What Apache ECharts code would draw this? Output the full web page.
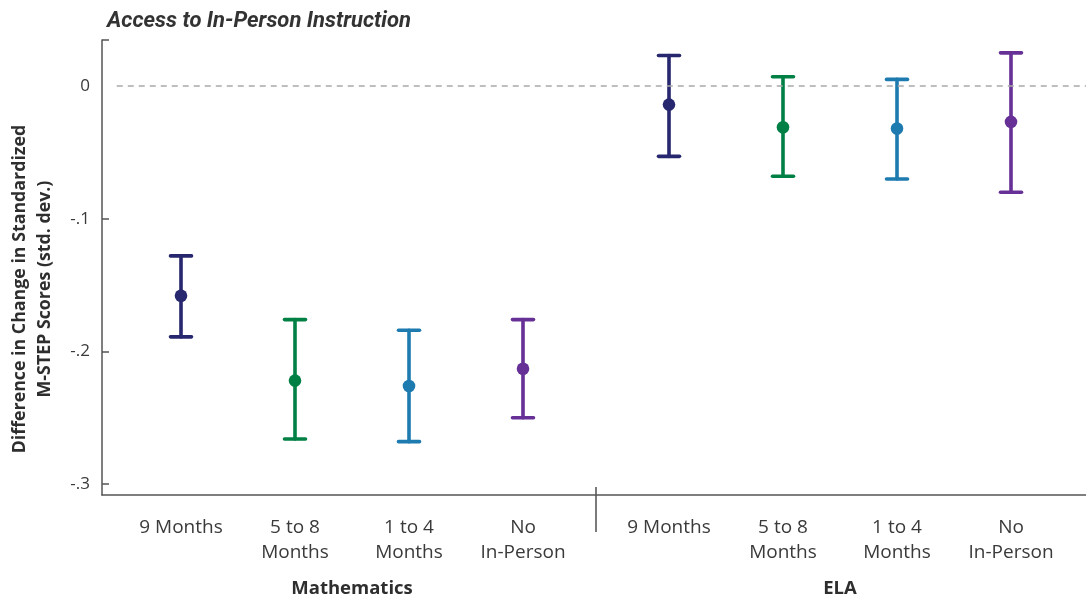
<!DOCTYPE html>
<html>
<head>
<meta charset="utf-8">
<script src="https://cdn.jsdelivr.net/npm/echarts@6/dist/echarts.min.js"></script>
<style>
  html, body { margin: 0; padding: 0; background: #fff; }
  #chart { width: 1086px; height: 599px; }
</style>
</head>
<body>
<div id="chart"></div>
<script>
// Categories of in-person access and the two tested subjects
const categories = ['9 Months', '5 to 8\nMonths', '1 to 4\nMonths', 'No\nIn-Person'];
const subjects = ['Mathematics', 'ELA'];

// Point estimates and 95% interval bounds (std. dev.)
const mathEstimate = [-0.158, -0.222, -0.226, -0.213];
const mathLower    = [-0.189, -0.266, -0.268, -0.250];
const mathUpper    = [-0.128, -0.176, -0.184, -0.176];
const elaEstimate  = [-0.014, -0.031, -0.032, -0.027];
const elaLower     = [-0.053, -0.068, -0.070, -0.080];
const elaUpper     = [0.023, 0.007, 0.005, 0.025];

const yTicks = [0, -0.1, -0.2, -0.3];
const colors = ['#27276f', '#008045', '#1e7bb0', '#663096'];

const Y_MIN = -0.3082, Y_MAX = 0.0347;
const FONT = '"Open Sans", "DejaVu Sans", sans-serif';

function rows(est, lo, hi) {
  return est.map((v, i) => [i, v, lo[i], hi[i]]);
}

function renderErrorBar(params, api) {
  const idx = api.value(0);
  const pMean = api.coord([idx, api.value(1)]);
  const pLo = api.coord([idx, api.value(2)]);
  const pHi = api.coord([idx, api.value(3)]);
  const x = pMean[0];
  const half = 10.5;
  const color = colors[params.dataIndex];
  const line = { stroke: color, lineWidth: 3.6, lineCap: 'round' };
  return {
    type: 'group',
    children: [
      { type: 'line', shape: { x1: x, y1: pHi[1], x2: x, y2: pLo[1] }, style: line },
      { type: 'line', shape: { x1: x - half, y1: pHi[1], x2: x + half, y2: pHi[1] }, style: line },
      { type: 'line', shape: { x1: x - half, y1: pLo[1], x2: x + half, y2: pLo[1] }, style: line },
      { type: 'circle', shape: { cx: x, cy: pMean[1], r: 6.3 }, style: { fill: color } }
    ]
  };
}

const hiddenY = (gi) => ({
  type: 'value', gridIndex: gi, min: Y_MIN, max: Y_MAX, show: false, splitLine: { show: false }
});

const catX = (gi, name) => ({
  type: 'category', gridIndex: gi, data: categories, boundaryGap: true,
  axisLine: { show: false }, axisTick: { show: false }, splitLine: { show: false },
  axisLabel: { margin: 20, fontFamily: FONT, fontSize: 19, lineHeight: 25, color: '#3a3a3a' },
  name: name, nameLocation: 'middle', nameGap: 84,
  nameTextStyle: { fontFamily: FONT, fontSize: 18.5, fontWeight: 'bold', color: '#2e2e2e' }
});

const gridBase = { top: 40, bottom: 104, outerBoundsMode: 'none', containLabel: false };

const chart = echarts.init(document.getElementById('chart'), null, { renderer: 'canvas' });

chart.setOption({
  animation: false,
  backgroundColor: '#ffffff',
  title: {
    text: 'Access to In-Person Instruction',
    left: 102, top: 5,
    textStyle: { fontFamily: 'Roboto, sans-serif', fontSize: 22, fontWeight: 'bold', fontStyle: 'italic', color: '#333333' }
  },
  grid: [
    Object.assign({ left: 102, right: 0 }, gridBase),
    Object.assign({ left: 124, width: 456 }, gridBase),
    Object.assign({ left: 612, width: 456 }, gridBase)
  ],
  xAxis: [
    {
      type: 'value', gridIndex: 0, min: 0, max: 1,
      axisLine: { show: true, onZero: false, lineStyle: { color: '#555555', width: 1.5 } },
      axisTick: { show: false }, axisLabel: { show: false }, splitLine: { show: false }
    },
    catX(1, subjects[0]),
    catX(2, subjects[1])
  ],
  yAxis: [
    {
      type: 'value', gridIndex: 0, min: Y_MIN, max: Y_MAX,
      axisLine: { show: true, onZero: false, lineStyle: { color: '#555555', width: 1.5 } },
      axisTick: { show: true, inside: true, length: 7, customValues: [Y_MAX, -0.1, -0.2, -0.3], lineStyle: { color: '#555555', width: 1.5 } },
      axisLabel: {
        customValues: yTicks, margin: 12, fontFamily: FONT, fontSize: 17, color: '#3a3a3a',
        formatter: (v) => v === 0 ? '0' : String(v).replace('0.', '.')
      },
      splitLine: { show: false }
    },
    hiddenY(1),
    hiddenY(2)
  ],
  series: [
    {
      type: 'line', xAxisIndex: 0, yAxisIndex: 0,
      data: [[0.015, 0], [1, 0]], symbol: 'none', silent: true,
      lineStyle: { color: '#a9a9a9', width: 1.6, type: [6, 5] }
    },
    {
      type: 'custom', xAxisIndex: 1, yAxisIndex: 1,
      data: rows(mathEstimate, mathLower, mathUpper), renderItem: renderErrorBar
    },
    {
      type: 'custom', xAxisIndex: 2, yAxisIndex: 2,
      data: rows(elaEstimate, elaLower, elaUpper), renderItem: renderErrorBar
    }
  ],
  graphic: [
    {
      type: 'line', shape: { x1: 596, y1: 487, x2: 596, y2: 532 },
      style: { stroke: '#333333', lineWidth: 1.3 }
    },
    {
      type: 'text', x: 32, y: 289, rotation: Math.PI / 2,
      style: {
        text: 'Difference in Change in Standardized\nM-STEP Scores (std. dev.)',
        fontFamily: FONT, fontSize: 17.8, fontWeight: 'bold', lineHeight: 25,
        fill: '#2e2e2e', align: 'center', verticalAlign: 'middle'
      }
    }
  ]
});
</script>
</body>
</html>
